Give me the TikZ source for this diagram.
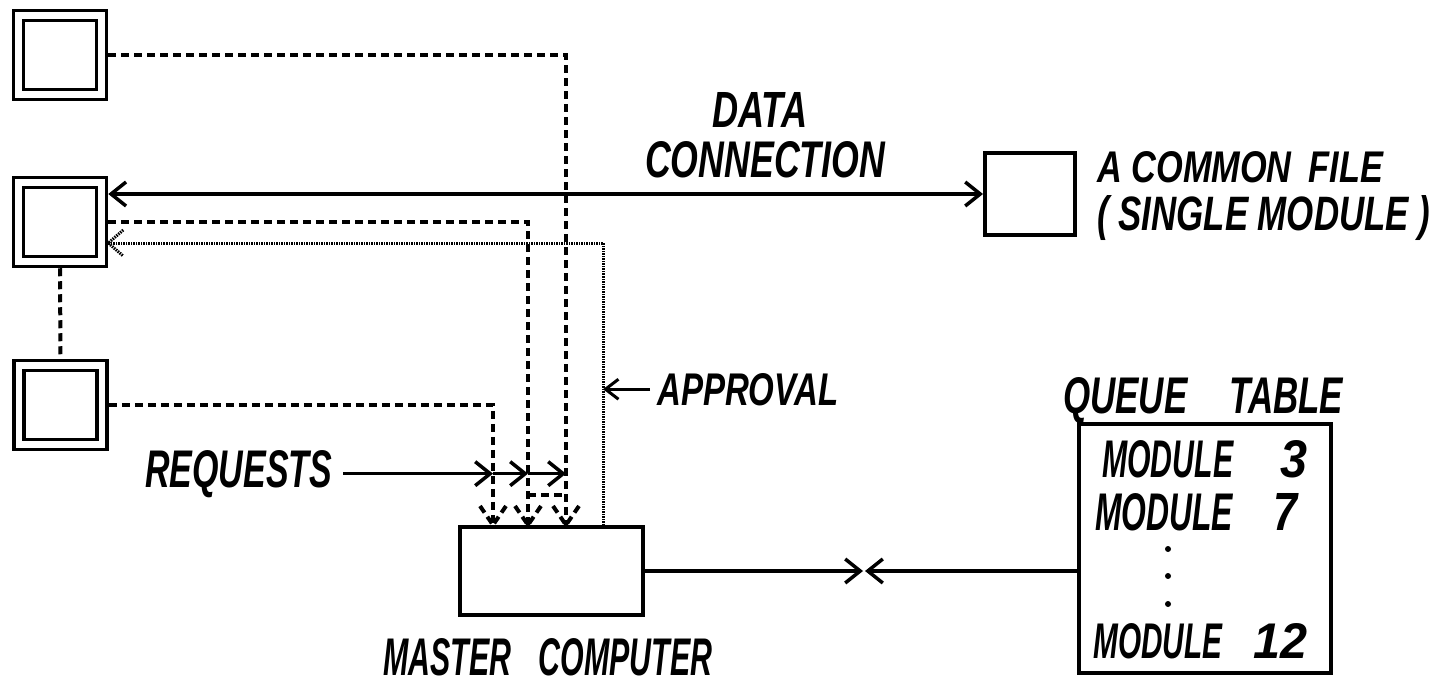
\documentclass[tikz,border=0pt]{standalone}
\usepackage{fontspec}
\usepackage{graphicx}
\newfontfamily\hand{Liberation Sans}
\usetikzlibrary{arrows.meta,calc}

% hand-lettered caption: width, cap height, text
\newcommand\hw[3]{\resizebox{#1pt}{#2pt}{\hand\bfseries\itshape #3}}

\begin{document}
\begin{tikzpicture}[x=1pt,y=-1pt,
  barb/.style={-{Straight Barb[length=15pt,width=24pt]}},
  conn/.style={line width=3.5pt},
  dashline/.style={line width=4pt, dash pattern=on 8pt off 5pt},
  dotline/.style={line width=3pt, dash pattern=on 1.5pt off 1pt, black},
  term/.style={draw, double, line width=3.5pt, double distance=6.5pt,
    minimum width=83pt, minimum height=79pt, outer sep=6.75pt, inner sep=0pt},
  plainbox/.style={draw, line width=3.8pt, inner sep=0pt},
  lbl/.style={inner sep=0pt, anchor=base west},
]
\useasboundingbox (0,0) rectangle (1437,687);

% terminals
\node[term] (t1) at (60,55) {};
\node[term] (t2) at (60,222) {};
\node[term] (t3) at (60.5,405) {};

% common file, master computer, queue table
\node[plainbox, minimum width=90.2pt, minimum height=82.2pt] (file) at (1030,194) {};
\node[plainbox, minimum width=183.2pt, minimum height=88.2pt] (master) at (551.5,571) {};
\node[plainbox, line width=4pt, minimum width=252pt, minimum height=249pt] (queue) at (1205,548.5) {};

% entry points on top of the master computer
\coordinate (ta) at ($(master.north west)+(35,0)$);
\coordinate (tb) at ($(master.north west)+(70,0)$);
\coordinate (tc) at ($(master.north west)+(108,0)$);
\coordinate (tap) at ($(master.north west)+(145,0)$);

% request lines
\draw[dashline] (t1.east) -| (tc);
\draw[dashline] (t2.east) -| (tb);
\draw[dashline] (t3.east) -| (ta);
\draw[dashline] (t2.south) -- (t3.north);
\draw[dashline] ($(tb)+(0,-30)$) -- ($(tc)+(0,-30)$);
\foreach \t in {ta,tb,tc} {
  \draw[dashline] ($(\t)+(-13,-19)$) -- (\t);
  \draw[dashline] ($(\t)+(13,-19)$) -- (\t);
}

% data connection
\draw[conn, {Straight Barb[length=15pt,width=24pt]}-{Straight Barb[length=15pt,width=24pt]}]
  (file.west -| t2.east) -- (file.west);

% approval line
\coordinate (apin) at ($(t2.east)+(0,21)$);
\draw[dotline] (tap) |- (apin);
\draw[dotline] ($(apin)+(15,-13)$) -- (apin) -- ($(apin)+(15,13)$);

% labels
\node[lbl] (dat) at (712,128) {\hw{95}{35}{DATA}};
\node[lbl] (con) at (645,178) {\hw{240}{36}{CONNECTION}};
\node[lbl] (cf1) at (1097,183) {\hw{286}{31}{A COMMON\hspace{0.5em}FILE}};
\node[lbl] (cf2) at (1097,230) {\hw{333}{35}{( SINGLE MODULE )}};
\node[lbl] (apl) at (657,405) {\hw{181}{32}{APPROVAL}};
\node[lbl] (req) at (145,487) {\hw{187}{37}{REQUESTS}};
\node[lbl] (mcl) at (383,675) {\hw{329}{37}{MASTER\hspace{0.9em}COMPUTER}};
\node[lbl] (qtl) at (1063,413) {\hw{280}{36}{QUEUE\hspace{1.2em}TABLE}};

\node[lbl] (m1) at (1102,477) {\hw{131}{37}{MODULE}};
\node[lbl] (n1) at (1280,477) {\hw{27}{37}{3}};
\node[lbl] (m2) at (1095,530) {\hw{138}{37}{MODULE}};
\node[lbl] (n2) at (1273,530) {\hw{24}{37}{7}};
\node[lbl] (m3) at (1093,658) {\hw{129}{35}{MODULE}};
\node[lbl] (n3) at (1253,658) {\hw{54}{35}{12}};
\foreach \yy in {549,576,604} \fill (1168,\yy) circle (3pt);

% approval pointer
\draw[line width=3pt, -{Straight Barb[length=13pt,width=20pt]}]
  ([xshift=-7pt]apl.west) -- (apl.west -| tap);

% requests pointer
\coordinate (ra) at (req.east -| ta);
\coordinate (rb) at (req.east -| tb);
\coordinate (rc) at (req.east -| tc);
\draw[conn, barb] ([xshift=11pt]req.east) -- (ra);
\draw[conn, barb] (ra) -- (rb);
\draw[conn, barb] (rb) -- (rc);

% master computer to queue table
\coordinate (mid) at ($(master.east)+(218,0)$);
\draw[conn, barb] (master.east) -- (mid);
\draw[conn, barb] (queue.west |- mid) -- ([xshift=2pt]mid);
\end{tikzpicture}
\end{document}
